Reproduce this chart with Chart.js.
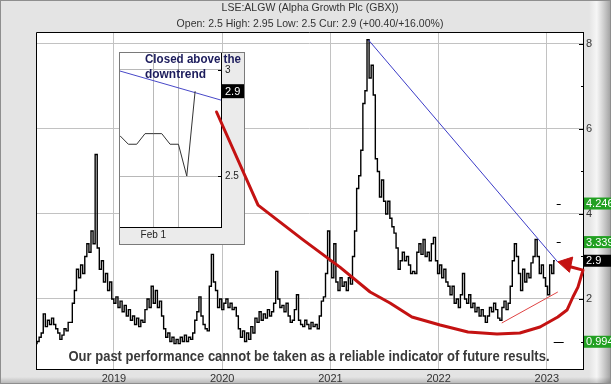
<!DOCTYPE html>
<html>
<head>
<meta charset="utf-8">
<script src="https://cdn.jsdelivr.net/npm/chart.js@4.4.1/dist/chart.umd.min.js"></script>
<style>
  html, body { margin: 0; padding: 0; background: #e4e4e4; }
  #main { display: block; }
  #inset-host { position: absolute; left: -2000px; top: 0; }
</style>
</head>
<body>
<canvas id="main" width="611" height="384"></canvas>
<div id="inset-host"><canvas id="inset" width="126" height="193"></canvas></div>
<script>
'use strict';
/* LSE:ALGW — gráfico semanal con recuadro de los últimos días */

const TITLE = 'LSE:ALGW (Alpha Growth Plc (GBX))';
const SUBTITLE = 'Open: 2.5 High: 2.95 Low: 2.5 Cur: 2.9 (+00.40/+16.00%)';
const DISCLAIMER = 'Our past performance cannot be taken as a reliable indicator of future results.';
const NOTE = ['Closed above the', 'downtrend'];

// Ejes
const X_MIN = '2018-04-13', X_MAX = '2023-05-03';
const YEARS = [2019, 2020, 2021, 2022, 2023];
const Y_MIN = 0.353, Y_MAX = 8.282;
const Y_TICKS = [1, 2, 3, 4, 5, 6, 7, 8];

// Cierres semanales (GBX), desde PRICE_START, una semana por valor
const PRICE_START = '2018-04-13';
const PRICE = [
  0.95, 1.0, 1.1, 1.2, 1.65, 1.35, 1.5, 1.4, 1.55, 1.4, 1.3, 1.2, 1.05, 1.15, 1.3, 1.25, 1.45, 1.45, 1.9,
  2.2, 2.7, 2.5, 2.8, 2.6, 3.0, 3.3, 3.1, 3.6, 3.3, 5.4, 3.2, 2.7, 2.9, 2.4, 2.6, 2.2, 2.4, 2.0,
  1.9, 2.05, 1.8, 1.95, 1.7, 1.85, 1.6, 1.75, 1.5, 1.6, 1.4, 1.55, 1.35, 1.5, 1.45, 1.75, 2.0, 1.8,
  2.3, 1.9, 2.2, 1.8, 1.95, 1.6, 1.3, 1.1, 1.2, 1.0, 1.1, 0.95, 1.05, 0.95,
  1.1, 1.0, 1.15, 1.0, 1.1, 1.05, 1.2, 1.5, 1.7, 2.05, 1.6, 1.4, 1.3, 1.25, 2.3, 3.05, 2.4, 2.2, 1.8, 2.0, 1.75, 1.9,
  2.0, 1.8, 1.9, 1.75, 1.8, 1.6, 1.3, 1.1, 1.25, 1.0, 1.2, 1.05, 1.35, 1.2, 1.55, 1.45, 1.7, 1.5, 1.65, 1.55, 1.75, 1.6, 1.7, 1.9,
  2.65, 2.0, 1.8, 1.85, 1.7, 1.9, 1.6, 1.45, 1.5, 1.75, 2.1, 1.5, 1.4, 1.35, 1.5, 1.4, 1.3, 1.45, 1.35, 1.4, 1.3, 1.6, 1.95, 2.05,
  2.6, 3.6, 2.9, 2.5, 3.3, 2.4, 2.2, 2.5, 2.3, 2.4, 2.2, 2.5, 2.35, 3.0, 3.6, 4.6, 4.9, 5.5, 6.6, 6.9, 8.1, 7.2, 7.5, 6.8,
  5.3, 5.0, 4.4, 4.8, 4.3, 4.0, 4.3, 3.9, 3.7, 3.55, 3.2, 2.7, 2.9, 3.1, 2.9, 3.0, 2.8, 2.6, 2.65, 2.6, 3.1, 3.3, 3.05, 3.4,
  3.0, 3.1, 2.9, 3.3, 3.45, 2.9, 2.6, 2.8, 2.5, 2.7, 2.4, 2.3, 2.1, 2.3, 1.9, 2.0, 1.8, 2.1, 2.6, 2.0, 1.9, 2.1, 1.8, 1.9,
  1.7, 1.8, 1.6, 1.75, 1.6, 1.45, 1.6, 1.8, 1.7, 1.9, 1.75, 1.55, 1.5, 1.8, 1.95, 1.75, 1.9, 2.3, 2.9, 3.3, 3.0, 2.6, 2.2, 2.7,
  2.4, 2.6, 2.5, 2.85, 3.0, 3.4, 3.0, 2.6, 2.8, 2.5, 2.3, 2.1, 2.8, 2.6, 2.9,
];

// Anotaciones (fecha, precio)
const DOWN_DATES = ['2021-05-10', '2023-02-07'];
const DOWN_VALS = [8.09, 2.87];
const UP_DATES = ['2022-08-02', '2023-02-07'];
const UP_VALS = [1.435, 2.165];
const CURVE_DATES = ['2019-12-13', '2020-05-01', '2020-09-30', '2021-02-02', '2021-05-15', '2021-07-21',
  '2021-10-03', '2022-01-06', '2022-04-10', '2022-07-17', '2022-10-02', '2022-12-09', '2023-02-07',
  '2023-03-10', '2023-03-30', '2023-04-16', '2023-05-03', '2023-03-21'];
const CURVE_VALS = [6.40, 4.21, 3.39, 2.75, 2.165, 1.906, 1.576, 1.388, 1.224, 1.176, 1.2, 1.341, 1.576,
  1.741, 2.047, 2.28, 2.68, 2.76];
const ARROW_DATES = ['2023-03-09'];
const ARROW_VALS = [2.83];

// Niveles a la derecha
const LEVELS = [4.246, 3.339, 0.994];
const LEVEL_DATE = '2023-02-10';
const CLOSE = 2.9;

// Recuadro: últimos días
const INSET_DAYS = ['Jan 26', 'Jan 27', 'Jan 30', 'Jan 31', 'Feb 1', 'Feb 2', 'Feb 3', 'Feb 6', 'Feb 7', 'Feb 8'];
const INSET_CLOSE = [2.69, 2.65, 2.65, 2.7, 2.7, 2.7, 2.65, 2.65, 2.5, 2.9];
const INSET_GRID_DAYS = ['Feb 1', 'Feb 6'];
const INSET_LABEL_DAYS = ['Feb 1'];
const INSET_TREND = [2.995, 2.858];
const INSET_Y_TICKS = [2.5, 3];
const INSET_Y_MIN = 2.26, INSET_Y_MAX = 3.08, INSET_X_MAX = 12.1;

// ── helpers ─────────────────────────────────────────
const toYear = s => {
  const [y, m, d] = s.split('-').map(Number);
  return y + (Date.UTC(y, m - 1, d) - Date.UTC(y, 0, 1)) / 864e5 / 365;
};
const pts = (dates, vals) => dates.map((d, i) => ({ x: toYear(d), y: vals[i] }));
const priceStart = toYear(PRICE_START);
const pricePts = PRICE.map((v, i) => ({ x: priceStart + i * 7 / 365, y: v }));

const FONT = '"Liberation Sans", Arial, sans-serif';
Chart.defaults.font.family = FONT;
const GRID = '#c2c2c2';
const RED = '#c41212';

// sin relleno extra de etiquetas: el área queda donde dice el layout
const noPad = h => s => { if (h != null) s.height = h; s.paddingTop = s.paddingBottom = s.paddingLeft = s.paddingRight = 0; };
const noPadW = w => s => { s.width = w; s.paddingTop = s.paddingBottom = s.paddingLeft = s.paddingRight = 0; };

// ── recuadro ────────────────────────────────────────
const insetDeco = {
  id: 'insetDeco',
  beforeDraw(c) {
    const { ctx, width, height, chartArea: a } = c;
    ctx.save();
    ctx.fillStyle = '#ebebeb';
    ctx.fillRect(0, 0, width, height);
    ctx.fillStyle = '#fff';
    ctx.fillRect(a.left, a.top, a.right - a.left, a.bottom - a.top);
    ctx.restore();
  },
  afterDraw(c) {
    const { ctx, width, height, chartArea: a } = c;
    const ys = c.scales.y;
    ctx.save();
    // caja del último cierre
    const last = INSET_CLOSE[INSET_CLOSE.length - 1];
    const yc = ys.getPixelForValue(last);
    ctx.fillStyle = '#000';
    ctx.fillRect(a.right + 1, yc - 7, width - a.right - 2, 14);
    ctx.fillStyle = '#fff';
    ctx.font = '11px ' + FONT;
    ctx.textBaseline = 'middle';
    ctx.fillText(String(last), a.right + 4, yc + 0.5);
    // marcas del eje
    ctx.strokeStyle = '#000';
    ctx.lineWidth = 1;
    INSET_Y_TICKS.forEach(v => {
      const y = Math.round(ys.getPixelForValue(v)) + 0.5;
      ctx.beginPath(); ctx.moveTo(a.right - 3, y); ctx.lineTo(a.right, y); ctx.stroke();
    });
    // nota
    ctx.fillStyle = '#1c1c5c';
    ctx.font = 'bold 13px ' + FONT;
    ctx.textBaseline = 'middle';
    ctx.fillText(NOTE[0], 26, 7.5, 96);
    ctx.fillText(NOTE[1], 26, 22.5, 61);
    // borde
    ctx.strokeStyle = '#7a7a7a';
    ctx.strokeRect(0.5, 0.5, width - 1, height - 1);
    ctx.restore();
  },
};

const insetCanvas = document.getElementById('inset');
new Chart(insetCanvas, {
  type: 'line',
  data: {
    datasets: [
      { data: INSET_CLOSE.map((v, i) => ({ x: i, y: v })), borderColor: '#333', borderWidth: 1 },
      { data: [{ x: 0, y: INSET_TREND[0] }, { x: INSET_X_MAX, y: INSET_TREND[1] }], borderColor: '#4848c8', borderWidth: 1 },
    ],
  },
  options: {
    responsive: false, animation: false, devicePixelRatio: 1,
    layout: { padding: { left: 1, top: 1 } },
    elements: { point: { radius: 0 }, line: { tension: 0 } },
    plugins: { legend: { display: false }, tooltip: { enabled: false } },
    scales: {
      x: {
        type: 'linear', min: 0, max: INSET_X_MAX,
        afterBuildTicks: s => { s.ticks = INSET_GRID_DAYS.map(d => ({ value: INSET_DAYS.indexOf(d) })); },
        afterFit: noPad(18),
        grid: { color: '#b8b8b8', drawTicks: false },
        border: { color: '#000' },
        ticks: { padding: 2, font: { size: 10 }, color: '#222', maxRotation: 0, autoSkip: false,
          callback: v => INSET_LABEL_DAYS.includes(INSET_DAYS[v]) ? INSET_DAYS[v] : '' },
      },
      y: {
        position: 'right', min: INSET_Y_MIN, max: INSET_Y_MAX,
        afterBuildTicks: s => { s.ticks = INSET_Y_TICKS.map(v => ({ value: v })); },
        afterFit: noPadW(24),
        grid: { color: '#b8b8b8', drawTicks: false },
        border: { color: '#000' },
        ticks: { padding: 4, font: { size: 10 }, color: '#222', callback: v => String(v) },
      },
    },
  },
  plugins: [insetDeco],
});

// ── gráfico principal ───────────────────────────────
const frame = {
  id: 'frame',
  beforeDraw(c) {
    const { ctx, width, height, chartArea: a } = c;
    ctx.save();
    ctx.fillStyle = '#e4e4e4';
    ctx.fillRect(0, 0, width, height);
    let g = ctx.createLinearGradient(width - 22, 0, width, 0);
    g.addColorStop(0, 'rgba(250,250,250,0)');
    g.addColorStop(0.35, 'rgba(250,250,250,0.8)');
    g.addColorStop(1, 'rgba(150,150,150,0.9)');
    ctx.fillStyle = g;
    ctx.fillRect(width - 22, 0, 22, height);
    g = ctx.createLinearGradient(0, height - 7, 0, height);
    g.addColorStop(0, 'rgba(0,0,0,0)');
    g.addColorStop(1, 'rgba(0,0,0,0.22)');
    ctx.fillStyle = g;
    ctx.fillRect(0, height - 7, width, 7);
    ctx.strokeStyle = '#8e8e8e';
    ctx.strokeRect(0.5, 0.5, width - 1, height - 1);
    ctx.fillStyle = '#fff';
    ctx.fillRect(a.left, a.top, a.right - a.left, a.bottom - a.top);
    // títulos
    ctx.fillStyle = '#333';
    ctx.font = '10.5px ' + FONT;
    ctx.textAlign = 'center';
    ctx.textBaseline = 'middle';
    ctx.fillText(TITLE, 310, 8);
    ctx.fillText(SUBTITLE, 310, 24);
    ctx.restore();
  },
  beforeDatasetsDraw(c) {
    const { ctx, chartArea: a } = c;
    ctx.drawImage(insetCanvas, 119, 52);
    ctx.save();
    ctx.strokeStyle = '#000';
    ctx.lineWidth = 1;
    ctx.beginPath();
    ctx.moveTo(a.left + 0.5, a.bottom);
    ctx.lineTo(a.left + 0.5, a.top + 0.5);
    ctx.lineTo(a.right, a.top + 0.5);
    ctx.stroke();
    ctx.restore();
  },
  afterDatasetsDraw(c) {
    const { ctx } = c;
    ctx.save();
    ctx.fillStyle = '#3a3a3a';
    ctx.font = 'bold 15px "Liberation Sans Narrow", ' + FONT;
    ctx.textAlign = 'center';
    ctx.textBaseline = 'middle';
    ctx.fillText(DISCLAIMER, 309, 356.5, 481);
    ctx.restore();
  },
  afterDraw(c) {
    const { ctx, width, chartArea: a } = c;
    const ys = c.scales.y, xs = c.scales.x;
    ctx.save();
    ctx.lineWidth = 1;
    ctx.strokeStyle = '#000';
    // marcas interiores del eje derecho
    Y_TICKS.forEach(v => {
      const y = Math.round(ys.getPixelForValue(v)) + 0.5;
      ctx.beginPath(); ctx.moveTo(a.right - (v % 2 === 0 ? 4 : 2), y); ctx.lineTo(a.right, y); ctx.stroke();
    });
    // guiones de nivel
    const xl = xs.getPixelForValue(toYear(LEVEL_DATE));
    const dashLen = [4, 4, 10];
    LEVELS.forEach((v, i) => {
      const y = Math.round(ys.getPixelForValue(v)) + 0.5;
      ctx.beginPath(); ctx.moveTo(xl - dashLen[i] / 2, y); ctx.lineTo(xl + dashLen[i] / 2, y); ctx.stroke();
    });
    // cajas de valores
    ctx.font = '11px ' + FONT;
    ctx.textBaseline = 'middle';
    const box = (v, bg) => {
      const y = ys.getPixelForValue(v);
      ctx.fillStyle = bg;
      ctx.fillRect(a.right + 1, y - 6, width - a.right, 12);
      ctx.fillStyle = '#fff';
      ctx.fillText(String(v), a.right + 3, y + 0.5);
    };
    LEVELS.forEach(v => box(v, '#22a022'));
    box(CLOSE, '#000');
    ctx.restore();
  },
};

new Chart(document.getElementById('main'), {
  type: 'line',
  data: {
    datasets: [
      { data: pts(CURVE_DATES, CURVE_VALS), borderColor: RED, borderWidth: 3, order: 0, clip: 4,
        borderJoinStyle: 'round', borderCapStyle: 'round' },
      { data: pts(ARROW_DATES, ARROW_VALS), showLine: false, pointStyle: 'triangle', rotation: -78,
        pointRadius: 9, backgroundColor: RED, borderColor: RED, order: 0 },
      { data: pts(DOWN_DATES, DOWN_VALS), borderColor: '#3c3cc8', borderWidth: 1, order: 1 },
      { data: pts(UP_DATES, UP_VALS), borderColor: '#e04444', borderWidth: 1, order: 1 },
      { data: pricePts, borderColor: '#000', borderWidth: 1.4, stepped: 'middle', order: 2 },
    ],
  },
  options: {
    responsive: false, animation: false, devicePixelRatio: 1,
    layout: { padding: { left: 36, top: 32 } },
    elements: { point: { radius: 0 }, line: { tension: 0 } },
    plugins: { legend: { display: false }, tooltip: { enabled: false } },
    scales: {
      x: {
        type: 'linear', min: toYear(X_MIN), max: toYear(X_MAX),
        afterBuildTicks: s => { s.ticks = YEARS.map(v => ({ value: v })); },
        afterFit: noPad(15),
        grid: { color: GRID, drawTicks: false },
        border: { color: '#000' },
        ticks: { padding: 3, font: { size: 11 }, color: '#333', maxRotation: 0, autoSkip: false, callback: v => String(v) },
      },
      y: {
        position: 'right', min: Y_MIN, max: Y_MAX,
        afterBuildTicks: s => { s.ticks = Y_TICKS.map(v => ({ value: v })); },
        afterFit: noPadW(28),
        grid: { color: ctx => (ctx.tick && ctx.tick.value % 2 === 0 ? GRID : 'rgba(0,0,0,0)'), drawTicks: false },
        border: { color: '#000' },
        ticks: { padding: 3, font: { size: 11 }, color: '#333', autoSkip: false, callback: v => (v % 2 === 0 ? String(v) : '') },
      },
    },
  },
  plugins: [frame],
});
</script>
</body>
</html>
